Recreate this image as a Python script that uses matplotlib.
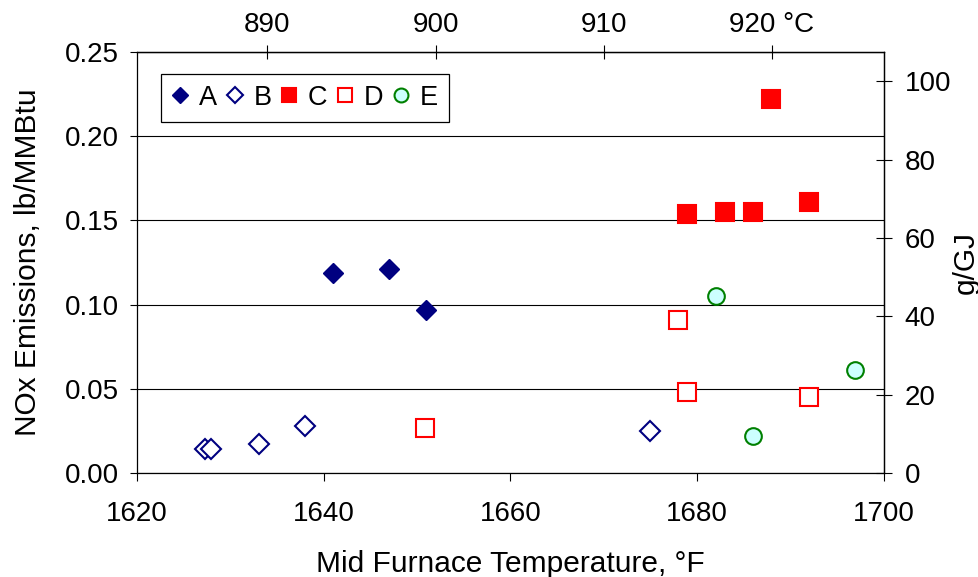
import matplotlib
matplotlib.use("Agg")
import matplotlib.pyplot as plt
from matplotlib.lines import Line2D

plt.rcParams['font.family'] = ['Liberation Sans', 'DejaVu Sans']

# Mid furnace temperature (°F) and NOx emissions (lb/MMBtu) per series
a_temp = [1641.0, 1647.0, 1651.0]
a_nox = [0.119, 0.121, 0.097]

b_temp = [1627.3, 1628.0, 1633.1, 1638.0, 1675.0]
b_nox = [0.014, 0.014, 0.017, 0.028, 0.025]

c_temp = [1678.9, 1683.0, 1686.0, 1692.0, 1687.9]
c_nox = [0.154, 0.155, 0.155, 0.161, 0.222]

d_temp = [1650.9, 1677.9, 1678.9, 1692.0]
d_nox = [0.027, 0.091, 0.048, 0.045]

e_temp = [1682.0, 1686.0, 1696.9]
e_nox = [0.105, 0.022, 0.061]

series_names = ['A', 'B', 'C', 'D', 'E']

x_ticks_f = [1620, 1640, 1660, 1680, 1700]
y_ticks = [0.00, 0.05, 0.10, 0.15, 0.20, 0.25]
top_ticks_c = [890, 900, 910, 920]
top_tick_labels = ['890', '900', '910', '920 °C']
right_ticks = [0, 20, 40, 60, 80, 100]

LB_MMBTU_TO_G_GJ = 430.0

navy = '#000080'
red = '#FF0000'
green = '#008000'
cyan = '#CCFFFF'

TICK_FS = 20
LABEL_FS = 21.5

fig = plt.figure(figsize=(9.79, 5.77), dpi=100)
ax = fig.add_axes([0.1396, 0.1802, 0.7634, 0.7297])

ax.plot(a_temp, a_nox, ls='none', marker='D', ms=10, mfc=navy, mec=navy, mew=1.0, label='A', zorder=3)
ax.plot(b_temp, b_nox, ls='none', marker='D', ms=10, mfc='white', mec=navy, mew=1.5, label='B', zorder=3)
ax.plot(c_temp, c_nox, ls='none', marker='s', ms=12.5, mfc=red, mec=red, mew=1.5, label='C', zorder=3)
ax.plot(d_temp, d_nox, ls='none', marker='s', ms=12.5, mfc='white', mec=red, mew=1.5, label='D', zorder=3)
ax.plot(e_temp, e_nox, ls='none', marker='o', ms=12, mfc=cyan, mec=green, mew=1.5, label='E', zorder=3)

ax.set_xlim(1620, 1700)
ax.set_ylim(0, 0.25)
ax.set_xticks(x_ticks_f)
ax.set_yticks(y_ticks)
ax.set_yticklabels([f'{v:.2f}' for v in y_ticks])
ax.yaxis.grid(True, color='black', lw=0.8)
ax.set_axisbelow(True)

for sp in ax.spines.values():
    sp.set_color('black')
    sp.set_linewidth(0.9)

ax.tick_params(axis='x', direction='out', length=5.5, width=0.8, pad=15, labelsize=TICK_FS)
ax.tick_params(axis='y', direction='out', length=5, width=0.8, pad=8, labelsize=TICK_FS)

ax.set_xlabel('Mid Furnace Temperature, °F', fontsize=LABEL_FS, labelpad=16)
ax.set_ylabel('NOx Emissions, lb/MMBtu', fontsize=LABEL_FS, labelpad=16)

# Secondary scales: g/GJ on the right, °C on top
sec_y = ax.secondary_yaxis('right', functions=(lambda v: v * LB_MMBTU_TO_G_GJ,
                                                 lambda v: v / LB_MMBTU_TO_G_GJ))
sec_y.set_yticks(right_ticks)
sec_y.tick_params(direction='inout', length=12, width=0.8, pad=9, labelsize=TICK_FS)
sec_y.set_ylabel('g/GJ', fontsize=LABEL_FS, labelpad=0)
sec_y.spines['right'].set_linewidth(0.9)

sec_x = ax.secondary_xaxis('top', functions=(lambda f: (f - 32) * 5 / 9,
                                               lambda c: c * 9 / 5 + 32))
sec_x.set_xticks(top_ticks_c)
sec_x.set_xticklabels(top_tick_labels)
sec_x.tick_params(direction='inout', length=10, width=0.8, pad=5, labelsize=TICK_FS)
sec_x.spines['top'].set_linewidth(0.9)

handles = [
    Line2D([], [], ls='none', marker='D', ms=8.5, mfc=navy, mec=navy, mew=1.0),
    Line2D([], [], ls='none', marker='D', ms=8.5, mfc='white', mec=navy, mew=1.5),
    Line2D([], [], ls='none', marker='s', ms=10, mfc=red, mec=red, mew=1.5),
    Line2D([], [], ls='none', marker='s', ms=10, mfc='white', mec=red, mew=1.5),
    Line2D([], [], ls='none', marker='o', ms=10, mfc=cyan, mec=green, mew=1.5),
]
leg = ax.legend(handles, series_names, loc='upper left', bbox_to_anchor=(0.0325, 0.948),
                borderaxespad=0, ncol=5, fontsize=19.5, frameon=True, fancybox=False,
                framealpha=1, edgecolor='black', handlelength=0.6, handletextpad=0.4,
                columnspacing=0.35, borderpad=0.4)
leg.get_frame().set_linewidth(0.9)

fig.savefig('out.png', dpi=100)
